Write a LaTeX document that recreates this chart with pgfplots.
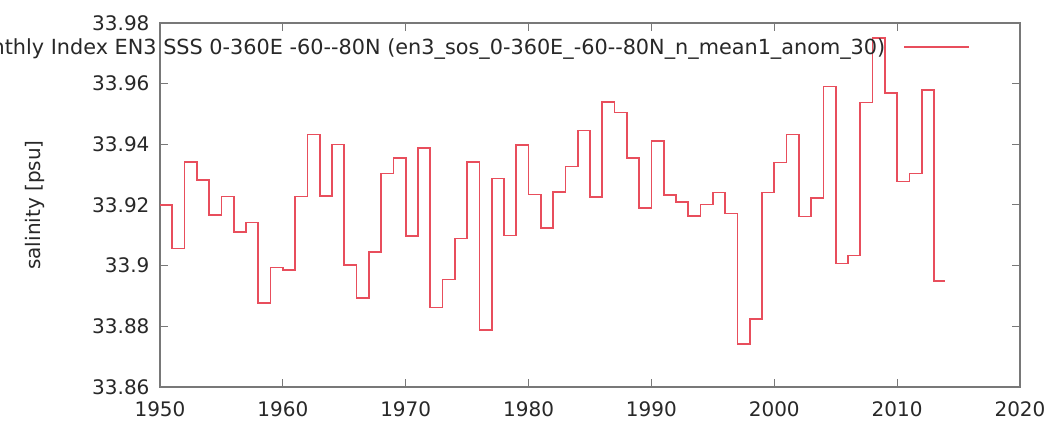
\documentclass[border=0pt]{standalone}
\usepackage{fontspec}
\setmainfont{DejaVu Sans}[Ligatures=TeXOff]
\usepackage{pgfplots}
\pgfplotsset{compat=1.18}

\definecolor{sssred}{RGB}{232,78,92}
\definecolor{boxgray}{RGB}{120,120,120}
\definecolor{txtgray}{RGB}{40,40,40}

\begin{document}
\begin{tikzpicture}
\clip (-160pt,-36pt) rectangle (888pt,387pt);
\fill[white] (-160pt,-36pt) rectangle (888pt,387pt);
\begin{axis}[
    scale only axis,
    width=860pt, height=364pt,
    xmin=1950, xmax=2020,
    ymin=33.86, ymax=33.98,
    xtick={1950,1960,1970,1980,1990,2000,2010,2020},
    ytick={33.86,33.88,33.90,33.92,33.94,33.96,33.98},
    /pgf/number format/assume math mode=true,
    x tick label style={/pgf/number format/set thousands separator={}},
    y tick label style={/pgf/number format/fixed, /pgf/number format/precision=2},
    tick align=inside,
    major tick length=8pt,
    axis line style={boxgray, line width=1.4pt},
    every tick/.style={boxgray, line width=1pt},
    tick label style={font=\fontsize{20}{24}\selectfont, text=txtgray},
    xticklabel style={yshift=-11pt},
    yticklabel style={xshift=-7pt},
    ylabel={salinity [psu]},
    ylabel style={font=\fontsize{20}{24}\selectfont, text=txtgray,
        at={(axis description cs:-0.1453,0.5)}, anchor=center},
    legend plot pos=right,
    legend image code/.code={\draw[#1] (0pt,0pt) -- (65pt,0pt);},
    legend style={draw=none, fill=none, at={(rel axis cs:0.942,0.934)},
        anchor=east, inner sep=0pt, font=\fontsize{20.8}{25}\selectfont,
        text=txtgray, nodes={inner sep=0pt}, /tikz/column sep=18pt},
]
\addplot[sssred, line width=1.6pt, const plot mark left] coordinates {
    (1950,33.9200) (1951,33.9056) (1952,33.9342) (1953,33.9282) (1954,33.9167)
    (1955,33.9228) (1956,33.9111) (1957,33.9142) (1958,33.8876) (1959,33.8994)
    (1960,33.8986) (1961,33.9228) (1962,33.9433) (1963,33.9230) (1964,33.9400)
    (1965,33.9002) (1966,33.8893) (1967,33.9045) (1968,33.9304) (1969,33.9354)
    (1970,33.9098) (1971,33.9388) (1972,33.8862) (1973,33.8955) (1974,33.9090)
    (1975,33.9342) (1976,33.8788) (1977,33.9288) (1978,33.9100) (1979,33.9398)
    (1980,33.9235) (1981,33.9125) (1982,33.9243) (1983,33.9327) (1984,33.9446)
    (1985,33.9226) (1986,33.9540) (1987,33.9505) (1988,33.9354) (1989,33.9191)
    (1990,33.9411) (1991,33.9233) (1992,33.9209) (1993,33.9164) (1994,33.9202)
    (1995,33.9241) (1996,33.9172) (1997,33.8741) (1998,33.8825) (1999,33.9241)
    (2000,33.9340) (2001,33.9433) (2002,33.9162) (2003,33.9224) (2004,33.9590)
    (2005,33.9007) (2006,33.9033) (2007,33.9538) (2008,33.9750) (2009,33.9570)
    (2010,33.9277) (2011,33.9304) (2012,33.9579) (2013,33.8950) (2013.9,33.8950)
};
\addlegendentry{Monthly Index EN3 SSS 0-360E -60--80N (en3\_sos\_0-360E\_-60--80N\_n\_mean1\_anom\_30)}
\end{axis}
\end{tikzpicture}
\end{document}
